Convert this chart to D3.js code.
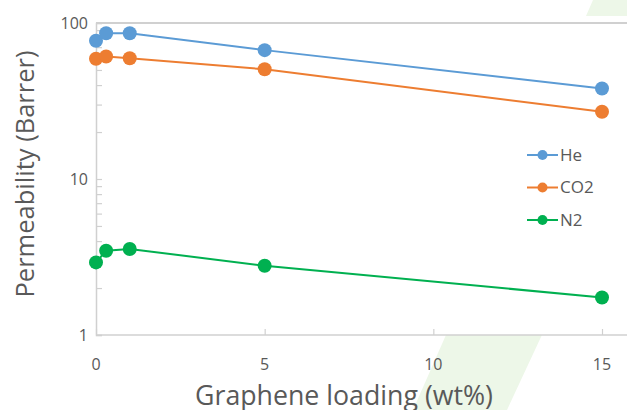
<!DOCTYPE html>
<html>
<head>
<meta charset="utf-8">
<script src="https://cdn.jsdelivr.net/npm/d3@7"></script>
<style>
  html, body { margin: 0; padding: 0; background: #fff; }
  svg { display: block; font-family: "Open Sans", "Noto Sans", sans-serif; }
</style>
</head>
<body>
<svg id="chart" width="627" height="410"></svg>
<script>
// graphene loading (wt%)
const loading = [0, 0.3, 1, 5, 15];

// permeability in Barrer
const heValues = [77, 86, 86, 67, 38];
const co2Values = [59, 61, 59.5, 50.5, 27];
const n2Values = [2.92, 3.47, 3.56, 2.78, 1.74];

const seriesNames = ['He', 'CO2', 'N2'];
const seriesColors = ['#5B9BD5', '#ED7D31', '#00B050'];

const xTicks = [0, 5, 10, 15];
const yTicks = [1, 10, 100];

const width = 627, height = 410;
const plot = { left: 96, right: 602, top: 23, bottom: 335 };

const svg = d3.select('#chart');

// faint green diagonal band in the background
svg.append('polygon')
  .attr('points', '593,0 698,0 507,410 413,410')
  .attr('fill', '#EDF7E8');

// white plot area covers the band
svg.append('rect')
  .attr('x', plot.left).attr('y', 16)
  .attr('width', width - plot.left).attr('height', plot.bottom - 16)
  .attr('fill', '#fff');

const x = d3.scaleLinear().domain([0, 15]).range([plot.left, plot.right]);
const y = d3.scaleLog().domain([1, 100]).range([plot.bottom, plot.top]);

const axisColor = '#D0D0D0';
const textColor = '#595959';

// top border
svg.append('line')
  .attr('x1', plot.left).attr('x2', width)
  .attr('y1', plot.top).attr('y2', plot.top)
  .attr('stroke', axisColor).attr('stroke-width', 2);

// y axis (ticks point inward)
const minorTicks = [];
[1, 10].forEach(dec => { for (let k = 2; k <= 9; k++) minorTicks.push(dec * k); });

const yAxis = svg.append('g')
  .attr('transform', `translate(${plot.left},0)`)
  .call(d3.axisRight(y).tickValues(yTicks.concat(minorTicks)).tickSize(6).tickFormat(''));
yAxis.select('.domain').attr('stroke', axisColor).attr('stroke-width', 1.5);
yAxis.selectAll('.tick line').attr('stroke', axisColor).attr('stroke-width', 1.2);

svg.append('g').selectAll('text')
  .data(yTicks)
  .join('text')
  .attr('x', plot.left - 8)
  .attr('y', d => y(d))
  .attr('dy', '0.35em')
  .attr('text-anchor', 'end')
  .attr('fill', textColor)
  .style('font-size', '16px')
  .text(d => d);

// x axis
const xAxis = svg.append('g')
  .attr('transform', `translate(0,${plot.bottom})`)
  .call(d3.axisTop(x).tickValues(xTicks).tickSize(6).tickFormat(''));
xAxis.select('.domain').remove();
xAxis.selectAll('.tick line').attr('stroke', axisColor).attr('stroke-width', 1.2);
svg.append('line')
  .attr('x1', plot.left).attr('x2', width)
  .attr('y1', plot.bottom).attr('y2', plot.bottom)
  .attr('stroke', axisColor).attr('stroke-width', 1.5);

svg.append('g').selectAll('text')
  .data(xTicks)
  .join('text')
  .attr('x', d => x(d))
  .attr('y', plot.bottom + 35)
  .attr('text-anchor', 'middle')
  .attr('fill', textColor)
  .style('font-size', '16px')
  .text(d => d);

// axis titles, sized to the width they take in the picture
function fitText(sel, target) {
  const w = sel.node().getComputedTextLength();
  const size = parseFloat(sel.style('font-size'));
  sel.style('font-size', (size * target / w).toFixed(2) + 'px');
}

const yTitle = svg.append('text')
  .attr('transform', 'translate(34,174) rotate(-90)')
  .attr('text-anchor', 'middle')
  .attr('fill', textColor)
  .style('font-size', '24px')
  .text('Permeability (Barrer)');
fitText(yTitle, 247);

const xTitle = svg.append('text')
  .attr('x', 344)
  .attr('y', 405)
  .attr('text-anchor', 'middle')
  .attr('fill', textColor)
  .style('font-size', '26px')
  .text('Graphene loading (wt%)');
fitText(xTitle, 298);

// series
const series = [heValues, co2Values, n2Values].map((vals, i) => ({
  name: seriesNames[i],
  color: seriesColors[i],
  points: loading.map((l, j) => ({ x: l, y: vals[j] }))
}));

const line = d3.line().x(d => x(d.x)).y(d => y(d.y));

series.forEach(s => {
  svg.append('path')
    .datum(s.points)
    .attr('d', line)
    .attr('fill', 'none')
    .attr('stroke', s.color)
    .attr('stroke-width', 2);

  svg.append('g').selectAll('circle')
    .data(s.points)
    .join('circle')
    .attr('cx', d => x(d.x))
    .attr('cy', d => y(d.y))
    .attr('r', 7)
    .attr('fill', s.color);
});

// legend
const legend = svg.append('g').attr('transform', 'translate(527,155)');
series.forEach((s, i) => {
  const g = legend.append('g').attr('transform', `translate(0,${i * 32.5})`);
  g.append('line').attr('x1', 0).attr('x2', 31).attr('y1', 0).attr('y2', 0)
    .attr('stroke', s.color).attr('stroke-width', 2);
  g.append('circle').attr('cx', 15.5).attr('cy', 0).attr('r', 5).attr('fill', s.color);
  g.append('text').attr('x', 33).attr('y', 0).attr('dy', '0.35em')
    .attr('fill', textColor).style('font-size', '17px').text(s.name);
});
</script>
</body>
</html>
